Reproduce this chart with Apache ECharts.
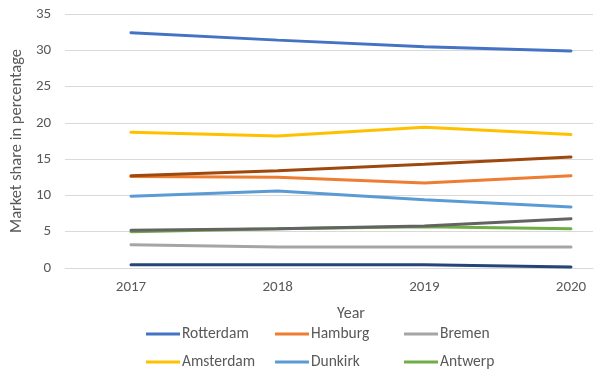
<!DOCTYPE html>
<html><head><meta charset="utf-8">
<script src="https://cdn.jsdelivr.net/npm/echarts@6/dist/echarts.min.js"></script>
<style>html,body{margin:0;padding:0;background:#fff}#c{width:595px;height:382px}</style>
</head><body><div id="c"></div>
<script>
const years = ['2017', '2018', '2019', '2020'];
const rotterdam = [32.4, 31.4, 30.5, 29.9];
const hamburg = [12.6, 12.5, 11.7, 12.7];
const bremen = [3.2, 2.9, 2.9, 2.9];
const amsterdam = [18.7, 18.2, 19.4, 18.4];
const dunkirk = [9.9, 10.6, 9.4, 8.4];
const antwerp = [5.0, 5.4, 5.7, 5.4];
const series7 = [0.45, 0.45, 0.45, 0.15];
const series8 = [12.7, 13.4, 14.3, 15.3];
const series9 = [5.2, 5.4, 5.8, 6.8];
const yTicks = [0, 5, 10, 15, 20, 25, 30, 35];
const legendRow1 = ['Rotterdam', 'Hamburg', 'Bremen'];
const legendRow2 = ['Amsterdam', 'Dunkirk', 'Antwerp'];

const defs = [
  ['Rotterdam', rotterdam, '#4472C4'],
  ['Hamburg', hamburg, '#ED7D31'],
  ['Bremen', bremen, '#A5A5A5'],
  ['Amsterdam', amsterdam, '#FFC000'],
  ['Dunkirk', dunkirk, '#5B9BD5'],
  ['Antwerp', antwerp, '#70AD47'],
  ['Series 7', series7, '#264478'],
  ['Series 8', series8, '#9E480E'],
  ['Series 9', series9, '#636363']
];
const font = 'Carlito, Lato, "Liberation Sans", sans-serif';
const txt = '#595959';
const colLeft = [146, 275, 404];
const legends = [];
[legendRow1, legendRow2].forEach((row, r) => {
  row.forEach((name, c) => {
    legends.push({
      left: colLeft[c], top: r === 0 ? 326 : 354,
      data: [name], itemWidth: 34, itemHeight: 3, itemGap: 0, icon: 'rect', padding: 0,
      textStyle: { color: txt, fontSize: 15.5, fontFamily: font, padding: [0, 0, 0, -3] }
    });
  });
});
const chart = echarts.init(document.getElementById('c'), null, { renderer: 'canvas' });
chart.setOption({
  animation: false,
  textStyle: { fontFamily: font },
  grid: [
    { left: 58, right: 2, top: 14, height: 254, containLabel: false },
    { left: 131, right: 24, top: 14, height: 254, containLabel: false }
  ],
  xAxis: [
    { gridIndex: 0, type: 'category', data: years, show: true,
      axisLine: { show: true, lineStyle: { color: '#D9D9D9' } },
      axisTick: { show: false }, axisLabel: { show: false } },
    { gridIndex: 1, type: 'category', data: years, boundaryGap: false,
      name: 'Year', nameLocation: 'middle', nameGap: 38,
      nameTextStyle: { color: txt, fontSize: 16, fontFamily: font },
      axisLine: { show: false }, axisTick: { show: false },
      axisLabel: { color: txt, fontSize: 15, fontFamily: font, margin: 12 } }
  ],
  yAxis: [
    { gridIndex: 0, type: 'value', min: yTicks[0], max: yTicks[yTicks.length - 1], interval: 5,
      name: 'Market share in percentage', nameLocation: 'middle', nameGap: 33, nameRotate: 90,
      nameTextStyle: { color: txt, fontSize: 16.5, fontFamily: font },
      axisLine: { show: false }, axisTick: { show: false },
      axisLabel: { color: txt, fontSize: 15, fontFamily: font, margin: 14 },
      splitLine: { lineStyle: { color: '#D9D9D9', width: 1 } } },
    { gridIndex: 1, type: 'value', min: yTicks[0], max: yTicks[yTicks.length - 1], interval: 5,
      show: false, splitLine: { show: false } }
  ],
  legend: legends,
  series: defs.map(d => ({
    name: d[0], type: 'line', data: d[1], symbol: 'none', xAxisIndex: 1, yAxisIndex: 1,
    lineStyle: { color: d[2], width: 3, cap: 'round' }, itemStyle: { color: d[2] }
  }))
});
</script></body></html>
